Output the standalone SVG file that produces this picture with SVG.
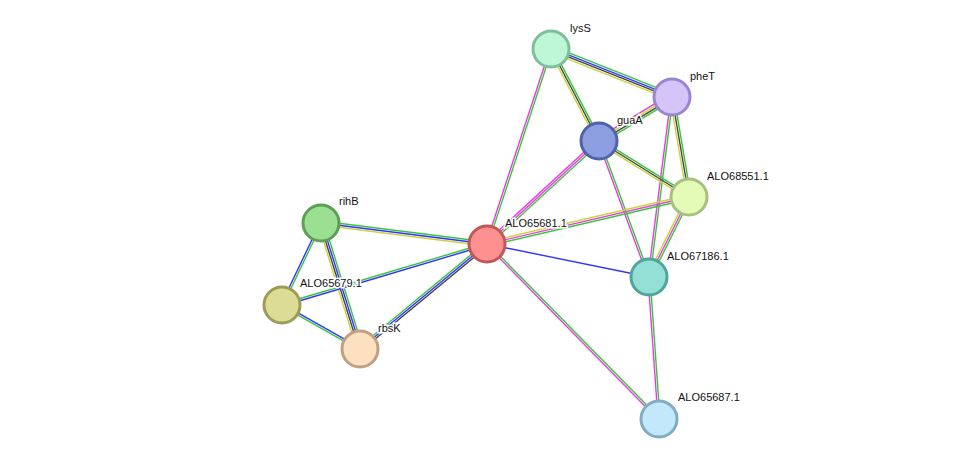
<svg xmlns="http://www.w3.org/2000/svg" width="975" height="464" viewBox="0 0 975 464">
<style>
line{stroke-width:1.4;fill:none}
.g{stroke:#3ac43a}.b{stroke:#3333ff}.k{stroke:#444}.y{stroke:#c8d43a}.m{stroke:#e040e0}
circle{stroke-width:3}
text{font-family:"Liberation Sans",Arial,sans-serif;font-size:11px;fill:#111;stroke:#fff;stroke-width:3;paint-order:stroke}
</style>
<rect width="975" height="464" fill="#fff"/>
<g id="edges">
<!-- lysS-pheT -->
<line class="g" x1="551" y1="49" x2="672" y2="97" transform="translate(1.11,-2.79)"/>
<line class="b" x1="551" y1="49" x2="672" y2="97" transform="translate(0.37,-0.93)"/>
<line class="k" x1="551" y1="49" x2="672" y2="97" transform="translate(-0.37,0.93)"/>
<line class="y" x1="551" y1="49" x2="672" y2="97" transform="translate(-1.11,2.79)"/>
<!-- lysS-guaA -->
<line class="g" x1="551" y1="49" x2="599" y2="141" transform="translate(1.77,-0.92)"/>
<line class="k" x1="551" y1="49" x2="599" y2="141"/>
<line class="y" x1="551" y1="49" x2="599" y2="141" transform="translate(-1.77,0.92)"/>
<!-- lysS-65681 -->
<line class="g" x1="551" y1="49" x2="487" y2="244" transform="translate(0.95,0.31)"/>
<line class="m" x1="551" y1="49" x2="487" y2="244" transform="translate(-0.95,-0.31)"/>
<!-- pheT-guaA -->
<line class="g" x1="672" y1="97" x2="599" y2="141" transform="translate(1.55,2.58)"/>
<line class="k" x1="672" y1="97" x2="599" y2="141" transform="translate(0.52,0.86)"/>
<line class="y" x1="672" y1="97" x2="599" y2="141" transform="translate(-0.52,-0.86)"/>
<line class="m" x1="672" y1="97" x2="599" y2="141" transform="translate(-1.55,-2.58)"/>
<!-- pheT-68551 -->
<line class="g" x1="672" y1="97" x2="689" y2="197" transform="translate(1.97,-0.33)"/>
<line class="k" x1="672" y1="97" x2="689" y2="197"/>
<line class="y" x1="672" y1="97" x2="689" y2="197" transform="translate(-1.97,0.33)"/>
<!-- pheT-67186 -->
<line class="g" x1="672" y1="97" x2="649" y2="277" transform="translate(0.99,0.13)"/>
<line class="m" x1="672" y1="97" x2="649" y2="277" transform="translate(-0.99,-0.13)"/>
<!-- guaA-68551 -->
<line class="g" x1="599" y1="141" x2="689" y2="197" transform="translate(1.06,-1.7)"/>
<line class="k" x1="599" y1="141" x2="689" y2="197"/>
<line class="y" x1="599" y1="141" x2="689" y2="197" transform="translate(-1.06,1.7)"/>
<!-- guaA-67186 -->
<line class="g" x1="599" y1="141" x2="649" y2="277" transform="translate(0.94,-0.34)"/>
<line class="m" x1="599" y1="141" x2="649" y2="277" transform="translate(-0.94,0.34)"/>
<!-- guaA-65681 -->
<line class="g" x1="599" y1="141" x2="487" y2="244" transform="translate(1.36,1.47)"/>
<line class="m" x1="599" y1="141" x2="487" y2="244"/>
<line class="m" x1="599" y1="141" x2="487" y2="244" transform="translate(-1.36,-1.47)"/>
<!-- 68551-65681 -->
<line class="g" x1="689" y1="197" x2="487" y2="244" transform="translate(0.45,1.95)"/>
<line class="m" x1="689" y1="197" x2="487" y2="244"/>
<line class="y" x1="689" y1="197" x2="487" y2="244" transform="translate(-0.45,-1.95)"/>
<!-- 68551-67186 -->
<line class="g" x1="689" y1="197" x2="649" y2="277" transform="translate(1.79,0.9)"/>
<line class="m" x1="689" y1="197" x2="649" y2="277"/>
<line class="y" x1="689" y1="197" x2="649" y2="277" transform="translate(-1.79,-0.9)"/>
<!-- 65681-67186 -->
<line class="b" x1="487" y1="244" x2="649" y2="277"/>
<!-- 65681-65687 -->
<line class="g" x1="487" y1="244" x2="659" y2="419" transform="translate(0.71,-0.7)"/>
<line class="m" x1="487" y1="244" x2="659" y2="419" transform="translate(-0.71,0.7)"/>
<!-- 67186-65687 -->
<line class="g" x1="649" y1="277" x2="659" y2="419" transform="translate(1,-0.07)"/>
<line class="m" x1="649" y1="277" x2="659" y2="419" transform="translate(-1,0.07)"/>
<!-- rihB-65681 -->
<line class="g" x1="321" y1="223" x2="487" y2="244" transform="translate(0.25,-1.98)"/>
<line class="b" x1="321" y1="223" x2="487" y2="244"/>
<line class="y" x1="321" y1="223" x2="487" y2="244" transform="translate(-0.25,1.98)"/>
<!-- rihB-65679 -->
<line class="g" x1="321" y1="223" x2="282" y2="305" transform="translate(0.9,0.43)"/>
<line class="b" x1="321" y1="223" x2="282" y2="305" transform="translate(-0.9,-0.43)"/>
<!-- rihB-rbsK -->
<line class="g" x1="321" y1="223" x2="360" y2="349" transform="translate(2.87,-0.89)"/>
<line class="b" x1="321" y1="223" x2="360" y2="349" transform="translate(0.95,-0.3)"/>
<line class="k" x1="321" y1="223" x2="360" y2="349" transform="translate(-0.95,0.3)"/>
<line class="y" x1="321" y1="223" x2="360" y2="349" transform="translate(-2.87,0.89)"/>
<!-- 65679-65681 -->
<line class="g" x1="282" y1="305" x2="487" y2="244" transform="translate(-0.29,-0.96)"/>
<line class="b" x1="282" y1="305" x2="487" y2="244" transform="translate(0.29,0.96)"/>
<!-- 65679-rbsK -->
<line class="g" x1="282" y1="305" x2="360" y2="349" transform="translate(-0.49,0.87)"/>
<line class="b" x1="282" y1="305" x2="360" y2="349" transform="translate(0.49,-0.87)"/>
<!-- rbsK-65681 -->
<line class="g" x1="360" y1="349" x2="487" y2="244" transform="translate(-1.27,-1.53)"/>
<line class="b" x1="360" y1="349" x2="487" y2="244"/>
<line class="k" x1="360" y1="349" x2="487" y2="244" transform="translate(1.27,1.53)"/>
</g>
<g id="lysS"><circle cx="551" cy="49" r="18" fill="#bdf7d8" stroke="#7dbf98"/><text x="570" y="32">lysS</text></g>
<g id="pheT"><circle cx="672" cy="97" r="18" fill="#d4c4f7" stroke="#9c85d0"/><text x="690" y="80">pheT</text></g>
<g id="guaA"><circle cx="599" cy="141" r="18" fill="#8d9ee0" stroke="#5062a8"/><text x="617" y="124">guaA</text></g>
<g id="ALO68551.1"><circle cx="689" cy="197" r="18" fill="#e3fbb7" stroke="#a8c07f"/><text x="707" y="180">ALO68551.1</text></g>
<g id="ALO67186.1"><circle cx="649" cy="277" r="18" fill="#94dfd6" stroke="#4ea59a"/><text x="667" y="260">ALO67186.1</text></g>
<g id="ALO65687.1"><circle cx="659" cy="419" r="18" fill="#c3e7fb" stroke="#82acc4"/><text x="678" y="401">ALO65687.1</text></g>
<g id="ALO65681.1"><circle cx="487" cy="244" r="18" fill="#ff9090" stroke="#c05858"/><text x="505" y="227">ALO65681.1</text></g>
<g id="rihB"><circle cx="321" cy="223" r="18" fill="#9bdf92" stroke="#5e9e55"/><text x="339" y="205">rihB</text></g>
<g id="ALO65679.1"><circle cx="282" cy="305" r="18" fill="#dddc96" stroke="#9d9c57"/><text x="300" y="287">ALO65679.1</text></g>
<g id="rbsK"><circle cx="360" cy="349" r="18" fill="#fde0c0" stroke="#c0a080"/><text x="378" y="332">rbsK</text></g>
</svg>
